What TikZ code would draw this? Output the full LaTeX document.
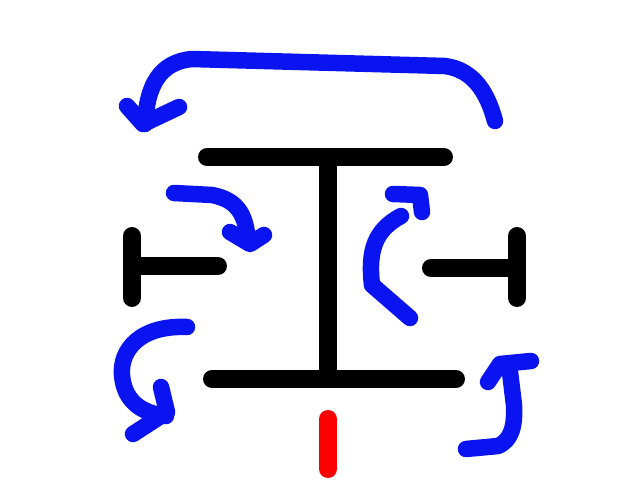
\documentclass[tikz,border=0pt]{standalone}
\definecolor{pen}{RGB}{10,20,240}
\definecolor{redpen}{RGB}{250,0,0}
\tikzset{
  bar/.style={line width=0.36cm, line cap=round, black},
  redbar/.style={line width=0.36cm, line cap=round, redpen},
  stroke/.style={line width=0.33cm, line cap=round, line join=round, pen}
}
\begin{document}
\begin{tikzpicture}[x=0.02cm, y=-0.02cm]
\useasboundingbox[fill=white] (0,0) rectangle (640,480);
% I-beam
\draw[bar] (207,157) -- (444,157);
\draw[bar] (328,157) -- (328,379);
\draw[bar] (212,379) -- (456,379);
% left T
\draw[bar] (132,236) -- (132,298);
\draw[bar] (132,266) -- (218,266);
% right T
\draw[bar] (517,236) -- (517,298);
\draw[bar] (431,268) -- (517,268);
% red
\draw[redbar] (328,419) -- (328,469);
% top arrow
\draw[stroke] (495,121) .. controls (488,95) and (475,70) .. (445,66)
  -- (192,59) .. controls (160,62) and (147,85) .. (145,124);
\draw[stroke] (127,106) -- (143,124) -- (179,107);
% middle-left arrow
\draw[stroke] (174,193) -- (212,195) .. controls (238,200) and (246,215) .. (248,242);
\draw[stroke] (230,232) -- (250,244) -- (264,235);
% middle-right arc
\draw[stroke] (401,216) .. controls (375,230) and (368,250) .. (372,285) -- (410,318);
\draw[stroke] (393,194) -- (420,195) -- (422,212);
% bottom-left arrow
\draw[stroke] (187,327) .. controls (140,325) and (120,350) .. (122,375)
  .. controls (124,400) and (140,413) .. (166,416);
\draw[stroke] (161,387) -- (167,412) -- (133,434);
% bottom-right arrow
\draw[stroke] (466,449) -- (498,446) .. controls (512,440) and (515,425) .. (514,405) -- (510,372);
\draw[stroke] (488,382) -- (500,364) -- (531,361);
\end{tikzpicture}
\end{document}
